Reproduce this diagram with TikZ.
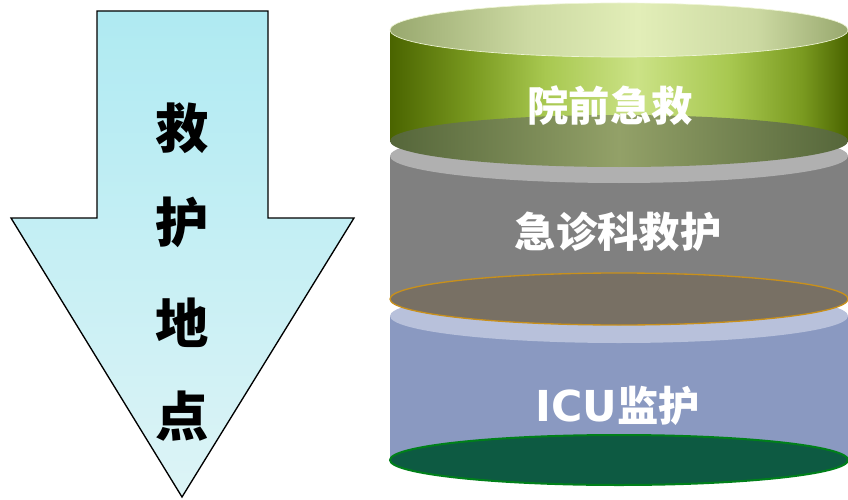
\documentclass[tikz,border=0pt]{standalone}
\usepackage{fontspec}
\newfontfamily\cjk{Noto Sans CJK SC}
\newfontfamily\latin{DejaVu Sans}

\definecolor{arrowtop}{HTML}{AFEAF2}
\definecolor{arrowbot}{HTML}{DDF4F6}
\definecolor{grayside}{HTML}{808080}
\definecolor{graytop}{HTML}{B0B0B0}
\definecolor{graybase}{HTML}{787064}
\definecolor{rimorange}{HTML}{C8901C}
\definecolor{blueside}{HTML}{8A99C1}
\definecolor{bluetop}{HTML}{B8C1DB}
\definecolor{icubase}{HTML}{0D5A42}
\definecolor{icurim}{HTML}{00801A}

% green cylinder shadings (left to right, path fits 25bp--75bp)
\definecolor{ga}{HTML}{4A6400}
\definecolor{gb}{HTML}{7A9A20}
\definecolor{gc}{HTML}{A8C850}
\definecolor{gd}{HTML}{CBE286}
\definecolor{ta}{HTML}{98A86E}
\definecolor{tb}{HTML}{E2EEB8}
\definecolor{ba}{HTML}{55663A}
\definecolor{bb}{HTML}{93A168}
\pgfdeclarehorizontalshading{greenside}{100bp}{color(0bp)=(ga); color(25bp)=(ga); color(34bp)=(gb); color(42bp)=(gc); color(52bp)=(gd); color(62bp)=(gc); color(70bp)=(gb); color(75bp)=(ga); color(100bp)=(ga)}
\pgfdeclarehorizontalshading{greentop}{100bp}{color(0bp)=(ta); color(25bp)=(ta); color(40bp)=(tb!70!ta); color(52bp)=(tb); color(65bp)=(tb!70!ta); color(75bp)=(ta); color(100bp)=(ta)}
\pgfdeclarehorizontalshading{greenbase}{100bp}{color(0bp)=(ba); color(25bp)=(ba); color(50bp)=(bb); color(75bp)=(ba); color(100bp)=(ba)}

\tikzset{
  layer text/.style={text=white, font=\cjk\bfseries\fontsize{31}{31}\selectfont},
  place text/.style={text=black, font=\cjk\bfseries\fontsize{40}{40}\selectfont}
}

\begin{document}
\begin{tikzpicture}[x=0.75pt,y=-0.75pt]
\useasboundingbox (0,0) rectangle (848,499);

% Down arrow
\shade[top color=arrowtop, bottom color=arrowbot, draw=black, line width=1pt]
  (97,11) -- (268,11) -- (268,218) -- (354,218) -- (182,497) -- (11,218) -- (97,218) -- cycle;

% Arrow text
\node[place text] (jiu) at (182,128) {救};
\node[place text] (hu) at (182,222) {护};
\node[place text] (di) at (182,323) {地};
\node[place text] (dian) at (182,416) {点};

% ICU layer (bottom)
\fill[blueside] (390,316) rectangle (848,460);
\fill[icubase, draw=icurim, line width=1.5pt] (619,460) ellipse[x radius=229, y radius=25];
\fill[bluetop] (619,316) ellipse[x radius=229, y radius=27];

% Emergency layer (middle)
\fill[grayside] (390,156) rectangle (848,299);
\fill[graybase, draw=rimorange, line width=1pt] (619,299) ellipse[x radius=229, y radius=26];
\fill[graytop] (619,156) ellipse[x radius=229, y radius=27];

% Pre-hospital layer (top)
\shade[shading=greenside] (390,30) rectangle (848,141);
\shade[shading=greenbase] (619,141) ellipse[x radius=229, y radius=26];
\shade[shading=greentop, draw=tb!60!white, line width=0.5pt] (619,30) ellipse[x radius=229, y radius=27];

% Layer labels
\node[layer text] (prehosp) at (610,106) {院前急救};
\node[layer text] (emerg) at (618,232) {急诊科救护};
\node[layer text] (icu) at (618,406) {{\latin\bfseries\fontsize{32}{32}\selectfont ICU}监护};
\end{tikzpicture}
\end{document}
